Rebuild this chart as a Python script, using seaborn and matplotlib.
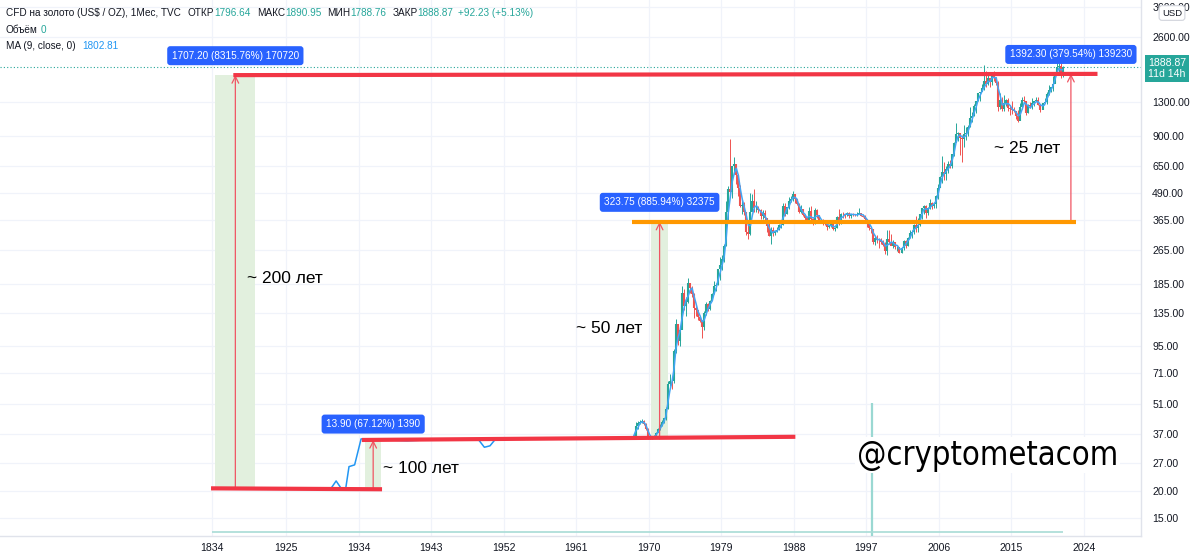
import numpy as np
import pandas as pd
import matplotlib
matplotlib.use('Agg')
import matplotlib.pyplot as plt
import seaborn as sns

# Gold monthly chart (TVC)

# 1834-1968: price mostly fixed, shown as a line
early_years = [1834, 1925, 1930.6, 1931.2, 1931.8, 1932.4, 1932.8, 1933.5, 1934.3,
               1940.0, 1945.5, 1948.8, 1949.6, 1950.3, 1951.0, 1967.5, 1968.0]
early_close = [20.67, 20.67, 20.67, 22.3, 20.67, 20.67, 26.0, 26.5, 35.0,
               34.3, 35.0, 35.0, 32.0, 32.5, 35.0, 35.2, 35.2]

# quarterly candles, 1968 Q1 .. 2021 Q2
q_start = 1968
q_close = [36, 40, 41.5, 42,   42.5, 41, 39, 35.5,   35.3, 35.4, 36, 37.4,
           38.9, 40, 42, 43.6,   48, 63, 65, 64.9,   90, 120, 100, 112,
           168, 145, 152, 186.5,   177, 166, 142, 140,   129, 124, 116, 134.5,
           149, 141, 154, 164.9,   181, 183, 217, 226,   240, 277, 397, 512,
           494, 653, 667, 590,   513, 423, 428, 400,   320, 315, 397, 448,
           414, 416, 405, 382,   394, 373, 343, 309,   330, 317, 326, 327,
           345, 345, 423, 391,   420, 449, 459, 484,   457, 436, 397, 410,
           385, 373, 366, 401,   368, 352, 408, 386,   356, 367, 354, 353,
           341, 343, 349, 333,   337, 378, 355, 391,   389, 386, 394, 383,
           392, 387, 384, 387,   396, 382, 379, 369,   352, 334, 332, 290,
           301, 296, 294, 288,   280, 261, 299, 290,   278, 288, 273, 273,
           258, 271, 293, 278,   301, 318, 323, 347,   334, 346, 388, 416,
           423, 395, 415, 438,   427, 436, 473, 513,   582, 613, 599, 632,
           663, 650, 743, 834,   917, 930, 880, 869,   916, 927, 995, 1096,
           1113, 1244, 1307, 1421,   1439, 1500, 1620, 1565,   1668, 1604, 1772, 1675,
           1595, 1234, 1327, 1202,   1284, 1327, 1210, 1199,   1183, 1172, 1115, 1061,
           1234, 1320, 1315, 1152,   1249, 1242, 1280, 1303,   1325, 1252, 1192, 1282,
           1292, 1409, 1472, 1517,   1577, 1781, 1886, 1898,   1707, 1888.87]
q_high = [37, 42, 42.5, 43,   43.5, 43, 41.5, 39.5,   35.8, 35.8, 36.5, 37.8,
          39.5, 41, 43, 44,   49.5, 65, 70, 66,   92, 127, 120, 113,
          180, 175, 160, 197,   185, 180, 168, 146,   140, 131, 125, 138,
          152, 150, 155, 167,   190, 187, 217, 245,   252, 282, 447, 524,
          873, 655, 720, 650,   600, 535, 460, 445,   400, 352, 487, 481,
          511, 446, 427, 410,   405, 406, 364, 353,   338, 340, 330, 340,
          350, 350, 440, 440,   422, 470, 475, 500,   485, 460, 440, 430,
          410, 390, 375, 420,   425, 375, 415, 410,   385, 370, 370, 365,
          360, 345, 352, 350,   340, 380, 410, 395,   397, 390, 398, 398,
          392, 396, 390, 397,   417, 395, 390, 387,   369, 354, 338, 333,
          307, 312, 301, 300,   295, 290, 328, 330,   315, 294, 286, 277,
          274, 275, 295, 296,   305, 330, 330, 350,   383, 372, 391, 417,
          428, 430, 420, 456,   445, 440, 477, 537,   585, 730, 680, 650,
          690, 695, 745, 848,   1033, 940, 930, 905,   1007, 990, 1012, 1226,
          1160, 1265, 1316, 1432,   1447, 1577, 1921, 1800,   1792, 1680, 1787, 1797,
          1696, 1617, 1434, 1361,   1392, 1332, 1346, 1255,   1308, 1225, 1170, 1191,
          1287, 1362, 1375, 1307,   1264, 1296, 1357, 1298,   1366, 1365, 1265, 1287,
          1346, 1439, 1557, 1516,   1703, 1789, 2075, 1965,   1959, 1912]
q_low = [35, 35.8, 39, 41,   41.5, 40.5, 38.5, 35,   34.8, 35, 35.2, 35.8,
         37.5, 38.5, 40, 41.5,   43, 48, 62, 60,   64, 88, 96, 95,
         115, 140, 130, 150,   167, 160, 128, 130,   125, 122, 103, 112,
         132, 138, 140, 155,   165, 171, 182, 193,   214, 233, 277, 367,
         474, 465, 600, 540,   472, 420, 390, 385,   312, 297, 310, 405,
         400, 400, 395, 370,   370, 366, 322, 307,   284, 308, 310, 320,
         330, 335, 345, 380,   390, 412, 444, 450,   440, 430, 395, 396,
         380, 358, 355, 365,   365, 345, 350, 375,   353, 355, 345, 345,
         330, 335, 340, 329,   326, 335, 345, 350,   375, 372, 380, 375,
         372, 380, 380, 380,   392, 380, 376, 366,   338, 328, 318, 283,
         279, 285, 272, 283,   278, 255, 252, 282,   279, 270, 268, 263,
         256, 256, 265, 272,   277, 300, 300, 315,   320, 320, 342, 370,
         390, 375, 387, 410,   411, 418, 415, 456,   524, 542, 560, 560,
         608, 636, 640, 725,   845, 850, 735, 680,   800, 865, 900, 990,
         1045, 1110, 1155, 1310,   1308, 1460, 1480, 1522,   1560, 1527, 1555, 1630,
         1555, 1180, 1207, 1182,   1182, 1240, 1180, 1132,   1142, 1162, 1077, 1046,
         1072, 1200, 1302, 1122,   1146, 1214, 1204, 1236,   1307, 1250, 1160, 1196,
         1277, 1266, 1400, 1445,   1451, 1671, 1765, 1765,   1676, 1690]

# volume pane: a single visible spike
vol_years = [1997.7]
vol_values = [1.0]

price_ticks = [15, 20, 27, 37, 51, 71, 95, 135, 185, 265, 365, 490, 650, 900, 1300, 2600, 3600]
year_ticks = [1834, 1925, 1934, 1943, 1952, 1961, 1970, 1979, 1988, 1997, 2006, 2015, 2024]

# price range tools
meas_start = [1838, 1934.8, 1970.3, 2022.4]
meas_end = [1887, 1936.8, 1972.4, 2022.4]
meas_low = [20.67, 20.67, 35.0, 358.75]
meas_high = [1727.87, 34.57, 358.75, 1751.05]
meas_text = ['1707.20 (8315.76%) 170720', '13.90 (67.12%) 1390',
             '323.75 (885.94%) 32375', '1392.30 (379.54%) 139230']

# drawn trend lines
trend_x = [[1860, 2025.7], [1832.6, 1936.9], [1934.4, 1988.2], [1967.9, 2023.0]]
trend_y = [[1728, 1751], [20.6, 20.4], [34.6, 35.8], [358.75, 358.75]]
trend_c = ['#f23645', '#f23645', '#f23645', '#ff9800']

notes = ['~ 200 лет', '~ 100 лет', '~ 50 лет', '~ 25 лет']
note_x = [1877, 1937.0, 1961.0, 2012.8]
note_y = [196, 25.6, 113.8, 791]

# header legend pieces (text, colour key)
header = [('CFD на золото (US$ / OZ), 1Мес, TVC', 't', 7), ('ОТКР', 't', 0), ('1796.64', 'g', 6),
          ('МАКС', 't', 0), ('1890.95', 'g', 6), ('МИН', 't', 0), ('1788.76', 'g', 6),
          ('ЗАКР', 't', 0), ('1888.87', 'g', 5), ('+92.23 (+5.13%)', 'g', 0)]

# ---- build frames ----
n = len(q_close)
t = q_start + np.arange(n) * 0.25 + 0.125
q = pd.DataFrame({'t': t, 'close': q_close, 'high': q_high, 'low': q_low})
q['open'] = q['close'].shift(1).fillna(early_close[-1])
q['ma'] = q['close'].rolling(3, min_periods=1).mean()
up = q['close'] >= q['open']

early = pd.DataFrame({'t': early_years, 'close': early_close})

sns.set_theme(style='white')
plt.rcParams['font.family'] = ['Liberation Sans', 'DejaVu Sans']

GREEN = '#26a69a'
RED = '#ef5350'
BLUE = '#2196f3'
TXT = '#131722'

fig = plt.figure(figsize=(12, 5.58), dpi=100)
ax = fig.add_axes([0, 22 / 558, 1141 / 1200, 536 / 558])

# compressed time axis before 1925 (sparse early bars)
R = 0.1009


def fwd(x):
    x = np.asarray(x, dtype=float)
    return np.where(x < 1925, 1925 + (x - 1925) * R, x)


def inv(x):
    x = np.asarray(x, dtype=float)
    return np.where(x < 1925, 1925 + (x - 1925) / R, x)


ax.set_xscale('function', functions=(fwd, inv))
ax.set_yscale('log')
ax.set_xlim(1573, 2031.1)
ax.set_ylim(12.36, 3866)

# volume pane on a twin axis
axv = ax.twinx()
axv.set_ylim(0, 4.03)
axv.vlines(vol_years, 0, vol_values, color='#9ad8d2', lw=1.6)
axv.hlines(0.03, early_years[0], t[-1], color='#a8dcd6', lw=1.2)
axv.set_yticks([])
axv.grid(False)
for s in axv.spines.values():
    s.set_visible(False)

# grid
for y in price_ticks:
    ax.axhline(y, color='#f0f3fa', lw=0.9, zorder=0)
for x in year_ticks:
    ax.axvline(x, color='#f0f3fa', lw=0.9, zorder=0)

# early line
sns.lineplot(data=early, x='t', y='close', ax=ax, color=BLUE, lw=1.1, zorder=3)

# candles
ccol = np.where(up, GREEN, RED)
ax.vlines(q['t'], q['low'], q['high'], colors=ccol, lw=0.7, zorder=3)
ax.vlines(q['t'], np.minimum(q['open'], q['close']), np.maximum(q['open'], q['close']),
          colors=ccol, lw=1.5, zorder=3)
sns.lineplot(data=q, x='t', y='ma', ax=ax, color='#42a5f5', lw=1.1, zorder=4)

# last price dotted line
last = q_close[-1]
ax.axhline(last, color=GREEN, lw=0.8, ls=(0, (1, 2)), zorder=2)

# price range tools
for a, b, lo, hi, txt in zip(meas_start, meas_end, meas_low, meas_high, meas_text):
    if b > a:
        ax.fill_between([a, b], lo, hi, color='#e2f0de', lw=0, zorder=1)
    xm = float(inv((fwd(a) + fwd(b)) / 2))
    ax.annotate('', xy=(xm, hi), xytext=(xm, lo),
                arrowprops=dict(arrowstyle='->', color='#f05563', lw=0.9,
                                shrinkA=0, shrinkB=0), zorder=5)
    off = 11.5 if hi < 100 else 14
    ax.annotate(txt, xy=(xm, hi), xytext=(0, off), textcoords='offset points',
                ha='center', va='center', color='white', fontsize=7.2, zorder=8,
                bbox=dict(boxstyle='round,pad=0.45,rounding_size=0.3',
                          fc='#2962ff', ec='none'))

# trend lines
for xs, ys, c in zip(trend_x, trend_y, trend_c):
    ax.plot(xs, ys, color=c, lw=3.0, solid_capstyle='butt', zorder=6)

for s, x, y in zip(notes, note_x, note_y):
    ax.text(x, y, s, fontsize=12.5, color='black', ha='left', va='center', zorder=7)

# axes styling
ax.yaxis.tick_right()
ax.yaxis.set_minor_locator(matplotlib.ticker.NullLocator())
ax.set_yticks(price_ticks)
ax.set_yticklabels([f'{v:.2f}' for v in price_ticks])
ax.set_xticks(year_ticks)
ax.set_xticklabels([str(v) for v in year_ticks])
ax.xaxis.set_minor_locator(matplotlib.ticker.NullLocator())
ax.tick_params(axis='y', length=0, pad=8, labelsize=7.6, labelcolor=TXT)
ax.tick_params(axis='x', length=0, pad=5, labelsize=7.6, labelcolor=TXT)
ax.set_xlabel('')
ax.set_ylabel('')
for k, s in ax.spines.items():
    s.set_visible(k in ('right', 'bottom'))
    s.set_color('#e0e3eb')
    s.set_linewidth(1.0)

# price label on the axis
ax.annotate(f'{last:.2f}\n11d 14h', xy=(1.0, last), xycoords=('axes fraction', 'data'),
            xytext=(5, -1), textcoords='offset points', ha='left', va='center',
            fontsize=7.6, color='white', linespacing=1.1, annotation_clip=False,
            bbox=dict(boxstyle='square,pad=0.3', fc=GREEN, ec='none'))
fig.text(1172 / 1200, 1 - 13 / 558, 'USD', fontsize=6.8, color=TXT, ha='center', va='center',
         zorder=20, bbox=dict(boxstyle='round,pad=0.3', fc='white', ec='#d1d4dc', lw=0.8))

renderer = fig.canvas.get_renderer()

# header legend, pieces placed one after another
cols = {'t': TXT, 'g': GREEN}
px = 6
for s, c, gap in header:
    tx = fig.text(px / 1200, 1 - 13 / 558, s, fontsize=7.2, color=cols[c], ha='left', va='center')
    px += tx.get_window_extent(renderer).width + gap
fig.text(6 / 1200, 1 - 30 / 558, 'Объём', fontsize=7.2, color=TXT, ha='left', va='center')
fig.text(41 / 1200, 1 - 30 / 558, '0', fontsize=7.2, color=GREEN, ha='left', va='center')
fig.text(6 / 1200, 1 - 46 / 558, 'MA (9, close, 0)', fontsize=7.2, color=TXT, ha='left', va='center')
fig.text(82 / 1200, 1 - 46 / 558, '1802.81', fontsize=7.2, color=BLUE, ha='left', va='center')

# watermark, condensed and fitted to its width in the reference
wm = fig.text(857 / 1200, 1 - 455 / 558, '@cryptometacom', fontsize=30,
              family='DejaVu Sans', fontstretch='condensed', color='black',
              ha='left', va='center', zorder=10,
              bbox=dict(boxstyle='square,pad=0.05', fc='white', ec='none'))
w = wm.get_window_extent(renderer).width
wm.set_fontsize(30 * 262 / w)

fig.savefig('out.png', dpi=100)
